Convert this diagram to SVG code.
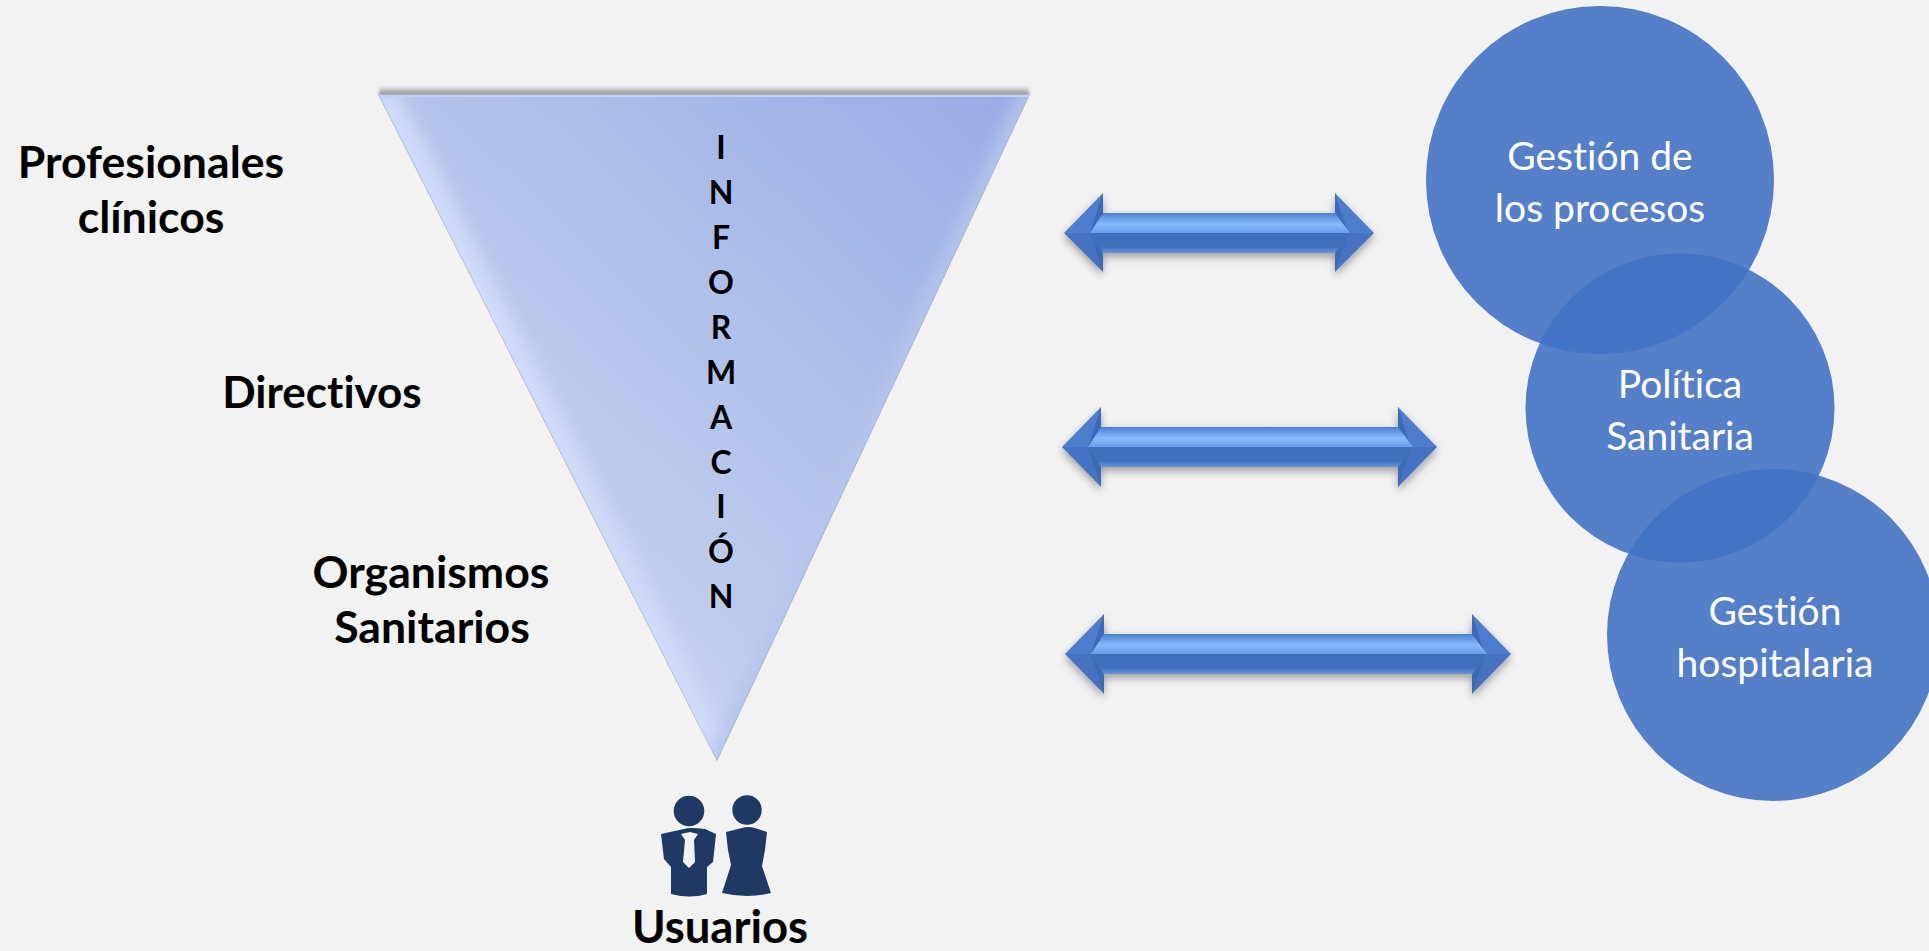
<svg xmlns="http://www.w3.org/2000/svg" width="1929" height="951" viewBox="0 0 1929 951">
<style>
text{font-family:Lato,"Liberation Sans",sans-serif;font-variant-ligatures:none;text-anchor:middle}
.b{font-weight:700;fill:#000;font-size:44.6px}
.l{font-weight:700;fill:#000;font-size:32px}
.w{font-weight:400;fill:#fff;font-size:39px}
.c{fill:#4472c4;fill-opacity:.9}
.p{fill:#1f3864}
.h{fill:#4e7dcd}
.hl{fill:#4672c2}
.d{fill:#3e6bb6}
.s{fill:url(#up)}
</style>
<defs>
<linearGradient id="tg" gradientUnits="userSpaceOnUse" x1="560" y1="560" x2="1000" y2="100">
<stop offset="0" stop-color="#c4d0ee"/><stop offset="1" stop-color="#98ade5"/>
</linearGradient>
<linearGradient id="up" x1="0" y1="0" x2="0" y2="1">
<stop offset="0" stop-color="#4f7fd0"/><stop offset=".28" stop-color="#86bafd"/><stop offset=".5" stop-color="#679ceb"/><stop offset=".5" stop-color="#4070bd"/><stop offset=".85" stop-color="#4070bd"/><stop offset="1" stop-color="#6a95da"/>
</linearGradient>
<linearGradient id="sh" x1="0" y1="0" x2="0" y2="1">
<stop offset="0" stop-color="#999" stop-opacity="0"/><stop offset="1" stop-color="#777"/>
</linearGradient>
<filter id="s" x="-10%" y="-30%" width="120%" height="170%"><feDropShadow dx="0" dy="4" stdDeviation="4" flood-color="#000" flood-opacity=".35"/></filter>
<filter id="bl" x="-10%" y="-10%" width="120%" height="120%"><feGaussianBlur stdDeviation="8"/></filter>
<filter id="b2" x="-2%" y="-100%" width="104%" height="300%"><feGaussianBlur stdDeviation="1.500"/></filter>
<clipPath id="tc"><path d="M379 95H1029L717 760Z"/></clipPath>
</defs>
<rect width="1929" height="951" fill="#f2f2f2"/>
<g id="triangle">
<rect x="379" y="86" width="650" height="9" fill="url(#sh)" filter="url(#b2)"/>
<path d="M379 95H1029L717 760Z" fill="url(#tg)" stroke="#a3aec8" stroke-width="1.200"/>
<g clip-path="url(#tc)" fill="none" filter="url(#bl)">
<path d="M379 95L717 760" stroke="#cfdbf8" stroke-width="36"/>
<path d="M1029 95L717 760" stroke="#b6c5ec" stroke-width="20"/>
</g>
<path d="M379 96H1029" stroke="#c2d0f5" stroke-width="2"/>
<text class="l" x="721" y="159">I</text>
<text class="l" x="721" y="204">N</text>
<text class="l" x="721" y="249">F</text>
<text class="l" x="721" y="294">O</text>
<text class="l" x="721" y="339">R</text>
<text class="l" x="721" y="384">M</text>
<text class="l" x="721" y="429">A</text>
<text class="l" x="721" y="474">C</text>
<text class="l" x="721" y="518">I</text>
<text class="l" x="721" y="563">Ó</text>
<text class="l" x="721" y="608">N</text>
</g>
<g id="label-profesionales"><text class="b" x="151" y="178">Profesionales</text><text class="b" x="151" y="233">clínicos</text></g>
<g id="label-directivos"><text class="b" x="322" y="408" style="font-size:44px">Directivos</text></g>
<g id="label-organismos"><text class="b" x="431" y="588">Organismos</text><text class="b" x="432" y="643">Sanitarios</text></g>
<g id="connectors">
<g id="arrow1" filter="url(#s)">
<path class="h" d="M1064 233L1103 193V233Z"/><path class="hl" d="M1064 233L1103 272V233Z"/>
<path class="h" d="M1374 233L1335 193V233Z"/><path class="hl" d="M1374 233L1335 272V233Z"/>
<path class="d" d="M1103 193V233H1090ZM1103 272V233H1090ZM1335 193V233H1348ZM1335 272V233H1348Z"/>
<path class="s" d="M1103 213H1335L1350 233L1335 253H1103L1090 233Z"/>
</g>
<g id="arrow2" filter="url(#s)">
<path class="h" d="M1062 447L1101 407V447Z"/><path class="hl" d="M1062 447L1101 487V447Z"/>
<path class="h" d="M1437 447L1398 407V447Z"/><path class="hl" d="M1437 447L1398 487V447Z"/>
<path class="d" d="M1101 407V447H1088ZM1101 487V447H1088ZM1398 407V447H1411ZM1398 487V447H1411Z"/>
<path class="s" d="M1101 427H1398L1413 447L1398 467H1101L1088 447Z"/>
</g>
<g id="arrow3" filter="url(#s)">
<path class="h" d="M1065 654L1104 614V654Z"/><path class="hl" d="M1065 654L1104 694V654Z"/>
<path class="h" d="M1511 654L1472 614V654Z"/><path class="hl" d="M1511 654L1472 694V654Z"/>
<path class="d" d="M1104 614V654H1091ZM1104 694V654H1091ZM1472 614V654H1485ZM1472 694V654H1485Z"/>
<path class="s" d="M1104 634H1472L1487 654L1472 674H1104L1091 654Z"/>
</g>
</g>
<g id="circle-procesos"><circle class="c" cx="1600" cy="180" r="174"/><text class="w" x="1600" y="170">Gestión de</text><text class="w" x="1600" y="222">los procesos</text></g>
<g id="circle-politica"><circle class="c" cx="1680" cy="408" r="154.500"/><text class="w" x="1680" y="398">Política</text><text class="w" x="1680" y="450">Sanitaria</text></g>
<g id="circle-hospitalaria"><circle class="c" cx="1773" cy="635" r="166"/><text class="w" x="1775" y="625">Gestión</text><text class="w" x="1775" y="677">hospitalaria</text></g>
<g id="usuarios">
<g class="p">
<circle cx="689" cy="811" r="15.300"/><circle cx="747" cy="810" r="14.700"/>
<path d="M661 834L684 829Q689 827 705 829L716 834L713 862L707 867V894Q690 899 671 894V867L664 859Z"/>
<path d="M726 832L742 828Q748 826 755 828L767 832L765 850L762 866L771 893Q748 899 722 893L731 865L728 850Z"/>
</g>
<path d="M681 834L690 832L698 834L694 840L695 862L689 868L683 862L685 840Z" fill="#f2f2f2"/>
<text class="b" x="720" y="943" style="font-size:45.500px">Usuarios</text>
</g>
</svg>
